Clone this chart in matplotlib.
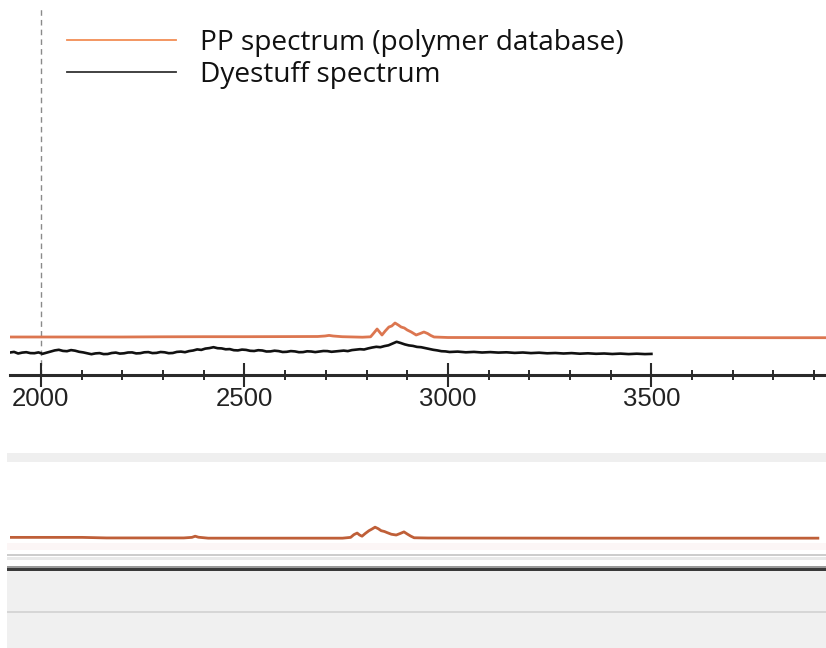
import matplotlib
matplotlib.use('Agg')
import matplotlib.pyplot as plt
from matplotlib.patches import Rectangle
from matplotlib.lines import Line2D
from matplotlib.ticker import MultipleLocator
from matplotlib import font_manager

# ---------------- data ----------------
pp_wavenumber = [1900, 2000, 2100, 2200, 2300, 2400, 2500, 2600, 2680, 2698, 2708,
                 2718, 2740, 2790, 2810, 2818, 2826, 2832, 2838, 2846, 2855, 2862,
                 2870, 2878, 2885, 2893, 2900, 2910, 2922, 2932, 2941, 2950, 2958,
                 2966, 3000, 3200, 3500, 3800, 3958]
pp_intensity = [38.0, 38.0, 38.0, 38.0, 38.2, 38.3, 38.3, 38.4, 38.5, 39.0, 39.6,
                39.0, 38.3, 37.8, 38.2, 42.0, 46.0, 43.0, 40.0, 44.0, 48.0, 49.0,
                52.0, 50.0, 48.0, 47.0, 45.0, 43.0, 40.0, 41.5, 43.0, 41.5, 39.5,
                38.0, 37.5, 37.4, 37.4, 37.3, 37.3]

# overview strip (lower panel)
overview_wavenumber = [1950, 2150, 2210, 2400, 2420, 2428, 2436, 2460, 2700, 2790,
                       2810, 2818, 2826, 2832, 2838, 2846, 2855, 2862, 2870, 2878,
                       2885, 2893, 2900, 2910, 2922, 2932, 2941, 2950, 2958, 2966,
                       3000, 3400, 3958]
overview_intensity = [39.0, 39.0, 38.3, 38.3, 39.0, 40.5, 39.2, 38.0, 38.0, 38.0,
                      39.0, 42.5, 44.5, 42.0, 40.5, 44.0, 47.5, 49.5, 52.0, 50.0,
                      47.5, 46.5, 45.0, 43.0, 42.0, 44.0, 46.0, 43.0, 40.5, 38.5,
                      38.2, 38.0, 38.0]

dye_wavenumber = [1924, 1934, 1944, 1954, 1964, 1974, 1984, 1994, 2004, 2014, 2024,
                  2034, 2044, 2054, 2064, 2074, 2084, 2094, 2104, 2114, 2124, 2134,
                  2144, 2154, 2164, 2174, 2184, 2194, 2204, 2214, 2224, 2234, 2244,
                  2254, 2264, 2274, 2284, 2294, 2304, 2314, 2324, 2334, 2344, 2354,
                  2364, 2374, 2384, 2394, 2404, 2414, 2424, 2434, 2444, 2454, 2464,
                  2474, 2484, 2494, 2504, 2514, 2524, 2534, 2544, 2554, 2564, 2574,
                  2584, 2594, 2604, 2614, 2624, 2634, 2644, 2654, 2664, 2674, 2684,
                  2694, 2704, 2714, 2724, 2734, 2744, 2754, 2764, 2774, 2784, 2794,
                  2804, 2814, 2824, 2834, 2844, 2854, 2864, 2874, 2884, 2894, 2904,
                  2914, 2924, 2934, 2944, 2954, 2964, 2974, 2984, 2994, 3004, 3024,
                  3044, 3064, 3084, 3104, 3124, 3144, 3164, 3184, 3204, 3224, 3244,
                  3264, 3284, 3304, 3324, 3344, 3364, 3384, 3404, 3424, 3444, 3464,
                  3484, 3500]
dye_intensity = [22.5, 23.1, 21.5, 22.4, 22.8, 21.9, 21.8, 22.6, 21.2, 22.3, 23.5,
                 24.6, 25.2, 24.1, 23.8, 24.9, 24.3, 23.2, 22.6, 21.7, 20.8, 21.6,
                 21.9, 20.9, 21.0, 22.0, 22.4, 21.4, 21.7, 22.5, 22.6, 21.6, 21.8,
                 22.7, 22.9, 21.9, 22.1, 23.0, 22.7, 21.8, 22.0, 23.1, 23.4, 22.8,
                 23.9, 24.5, 25.6, 25.1, 26.4, 26.9, 27.8, 26.8, 26.6, 25.7, 25.9,
                 24.8, 24.6, 25.4, 25.1, 24.2, 24.0, 24.8, 24.5, 23.5, 23.6, 24.3,
                 23.9, 23.0, 23.2, 23.9, 23.6, 22.8, 22.9, 23.7, 23.5, 22.9, 23.4,
                 24.0, 23.9, 23.2, 23.6, 24.1, 24.4, 23.9, 24.9, 25.3, 25.8, 25.5,
                 26.6, 27.5, 28.2, 27.8, 28.9, 29.7, 31.5, 33.2, 32.0, 30.6, 29.6,
                 29.1, 28.1, 27.8, 26.9, 26.1, 25.2, 24.6, 23.8, 23.6, 23.0, 23.4,
                 22.7, 23.1, 22.5, 22.9, 22.4, 22.7, 22.1, 22.5, 21.9, 22.3, 21.7,
                 22.0, 21.5, 21.9, 21.3, 21.7, 21.2, 21.5, 21.0, 21.4, 20.9, 21.3,
                 20.9, 21.1]

tick_major = 500
tick_minor = 100
marker_wavenumber = 2000
legend_labels = ["PP spectrum (polymer database)", "Dyestuff spectrum"]

# ---------------- layout ----------------
W, H = 826, 648
fig = plt.figure(figsize=(W / 100, H / 100), dpi=100)
fig.patch.set_facecolor('white')


def fx(px):
    return px / W


def fy(py):
    return 1 - py / H


def band(x0, y0, x1, y1, color):
    fig.patches.append(Rectangle((fx(x0), fy(y1)), fx(x1) - fx(x0), fy(y0) - fy(y1),
                                 transform=fig.transFigure, color=color, lw=0,
                                 zorder=-1))


installed = {f.name for f in font_manager.fontManager.ttflist}
tick_family = 'Liberation Sans Narrow' if 'Liberation Sans Narrow' in installed else 'Liberation Sans'
tick_size = 21 if tick_family == 'Liberation Sans Narrow' else 18.5

# UI background strips
band(7, 453, 826, 462, '#efefef')
band(7, 543, 826, 550, '#fcf6f6')
band(7, 554, 826, 556, '#cdcdcd')
band(7, 557, 826, 560, '#e9e9e9')
band(7, 566, 826, 568, '#9a9a9a')
band(7, 568, 826, 571, '#3a3a3a')
band(7, 571, 826, 648, '#f0f0f0')
band(7, 611, 826, 613, '#d6d6d6')

# ---------------- top spectrum panel ----------------
ax = fig.add_axes([fx(10), fy(375), fx(826) - fx(10), fy(0) - fy(375)])
ax.set_facecolor('none')
ax.set_xlim(1924, 3929)
ax.set_ylim(0, 375)
for s in ('left', 'right', 'top'):
    ax.spines[s].set_visible(False)
ax.spines['bottom'].set_linewidth(2.2)
ax.spines['bottom'].set_color('#2a2a2a')
ax.yaxis.set_visible(False)
ax.xaxis.set_major_locator(MultipleLocator(tick_major))
ax.xaxis.set_minor_locator(MultipleLocator(tick_minor))
ax.tick_params(axis='x', which='major', direction='inout', length=17, width=1.5,
               color='#2a2a2a', pad=0, labelsize=tick_size, labelcolor='#222222')
ax.tick_params(axis='x', which='minor', direction='inout', length=7, width=1.4,
               color='#2a2a2a')
for lab in ax.get_xticklabels():
    lab.set_fontfamily(tick_family)

ax.axvline(marker_wavenumber, ymin=0, ymax=366 / 375, color='#8a8a8a', lw=1.0,
           ls=(0, (4, 3)), zorder=1)

ax.plot(pp_wavenumber, pp_intensity, color='#dc7650', lw=2.0, zorder=3)
ax.plot(dye_wavenumber, dye_intensity, color='#111111', lw=1.9, zorder=3)

handles = [Line2D([], [], color='#f28d55', lw=1.3),
           Line2D([], [], color='#333333', lw=1.3)]
leg = ax.legend(handles, legend_labels, loc='upper left',
                bbox_to_anchor=(fx(67), fy(29)), bbox_transform=fig.transFigure,
                frameon=False, borderpad=0, borderaxespad=0,
                handlelength=3.9, handletextpad=0.84, labelspacing=0.15,
                prop={'family': 'Open Sans', 'size': 20.2})
for t in leg.get_texts():
    t.set_color('#111111')

# ---------------- bottom overview panel ----------------
ax2 = fig.add_axes([fx(10), fy(568), fx(826) - fx(10), fy(462) - fy(568)])
ax2.set_facecolor('none')
ax2.set_xlim(1973, 3978)
ax2.set_ylim(0, 135)
ax2.axis('off')
ax2.plot(overview_wavenumber, overview_intensity, color='#bf5f38', lw=2.0)

fig.savefig('out.png', dpi=100)
